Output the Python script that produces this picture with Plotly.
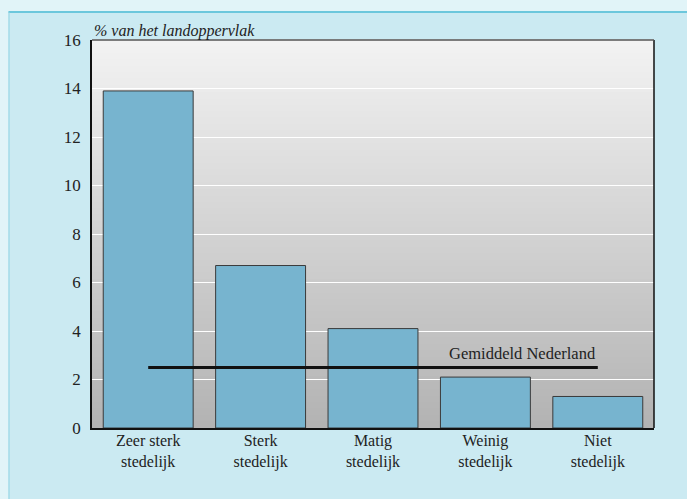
import plotly.graph_objects as go

categories = ["Zeer sterk<br>stedelijk", "Sterk<br>stedelijk", "Matig<br>stedelijk",
              "Weinig<br>stedelijk", "Niet<br>stedelijk"]
values = [13.9, 6.7, 4.1, 2.1, 1.3]
average_value = 2.5
average_label = "Gemiddeld Nederland"
y_title = "% van het landoppervlak"
y_ticks = [0, 2, 4, 6, 8, 10, 12, 14, 16]

FONT = "Liberation Serif"
W, H = 687, 499
ML, MR, MT, MB = 92, 33, 40, 71

fig = go.Figure()
fig.add_trace(go.Bar(
    x=categories, y=values, width=0.8,
    marker=dict(color="#77b4cf", line=dict(color="#3a3a3a", width=1)),
    showlegend=False, hoverinfo="y"))
fig.add_trace(go.Scatter(
    x=[categories[0], categories[-1]], y=[average_value, average_value],
    mode="lines", line=dict(color="#111111", width=3), showlegend=False))

shapes = []
n = 60
def mix(a, b, t):
    return int(round(a + (b - a) * t))
for i in range(n):
    t = i / (n - 1)
    g = mix(0xb3, 0xf2, t)
    shapes.append(dict(type="rect", xref="x domain", yref="y domain",
                       x0=0, x1=1, y0=i / n, y1=(i + 1) / n + 0.002,
                       fillcolor=f"rgb({g},{g},{g})", line=dict(width=0),
                       layer="below"))
pw, ph = W - ML - MR, H - MT - MB
def px_x(x): return (x - ML) / pw
def px_y(y): return 1 - (y - MT) / ph
shapes.append(dict(type="rect", xref="paper", yref="paper",
                   x0=px_x(0), x1=px_x(W), y0=px_y(11), y1=px_y(0),
                   fillcolor="#e1f4f8", line=dict(width=0), layer="below"))
shapes.append(dict(type="rect", xref="paper", yref="paper",
                   x0=px_x(0), x1=px_x(8.5), y0=px_y(H), y1=px_y(0),
                   fillcolor="#e1f4f8", line=dict(width=0), layer="below"))
shapes.append(dict(type="line", xref="paper", yref="paper",
                   x0=px_x(8.5), x1=px_x(W), y0=px_y(12), y1=px_y(12),
                   line=dict(color="#6cc7dc", width=2), layer="below"))
shapes.append(dict(type="line", xref="paper", yref="paper",
                   x0=px_x(9), x1=px_x(9), y0=px_y(12), y1=px_y(H),
                   line=dict(color="#8fd3e3", width=1), layer="below"))

fig.update_layout(
    width=W, height=H,
    margin=dict(l=ML, r=MR, t=MT, b=MB, pad=0),
    paper_bgcolor="#cbeaf2", plot_bgcolor="#d0d0d0",
    font=dict(family=FONT, size=16, color="#222222"),
    bargap=0.2,
    shapes=shapes,
    xaxis=dict(showgrid=False, showline=True, linecolor="#111111", linewidth=2,
               mirror=False, ticks="", ticklabelstandoff=-3,
               tickfont=dict(family=FONT, size=16, color="#222222"),
               fixedrange=True),
    yaxis=dict(range=[0, 16], tickvals=y_ticks, showgrid=True,
               gridcolor="#ffffff", gridwidth=1.2, zeroline=False,
               showline=True, linecolor="#111111", linewidth=1.5, mirror=False,
               ticks="", ticklabelstandoff=6,
               tickfont=dict(family=FONT, size=17, color="#222222"),
               fixedrange=True),
    annotations=[
        dict(text=y_title, xref="paper", yref="paper", x=0.0, y=1.0,
             xanchor="left", yanchor="bottom", yshift=-2, showarrow=False,
             font=dict(family=FONT, size=16, color="#222222", style="italic")),
        dict(text=average_label, xref="x", yref="y", x=categories[-1],
             y=average_value, xanchor="right", yanchor="bottom", yshift=2,
             showarrow=False, font=dict(family=FONT, size=16.5, color="#222222")),
    ],
)
fig.add_shape(type="line", xref="paper", yref="paper", x0=1, x1=1, y0=0, y1=1,
              line=dict(color="#111111", width=1.5))
fig.add_shape(type="line", xref="paper", yref="paper", x0=0, x1=1, y0=1, y1=1,
              line=dict(color="#555555", width=1.5))

fig.write_html("out.html", config={"displayModeBar": False},
               post_script="document.body.style.margin='0';"
                           "document.body.style.background='#e1f4f8';")
